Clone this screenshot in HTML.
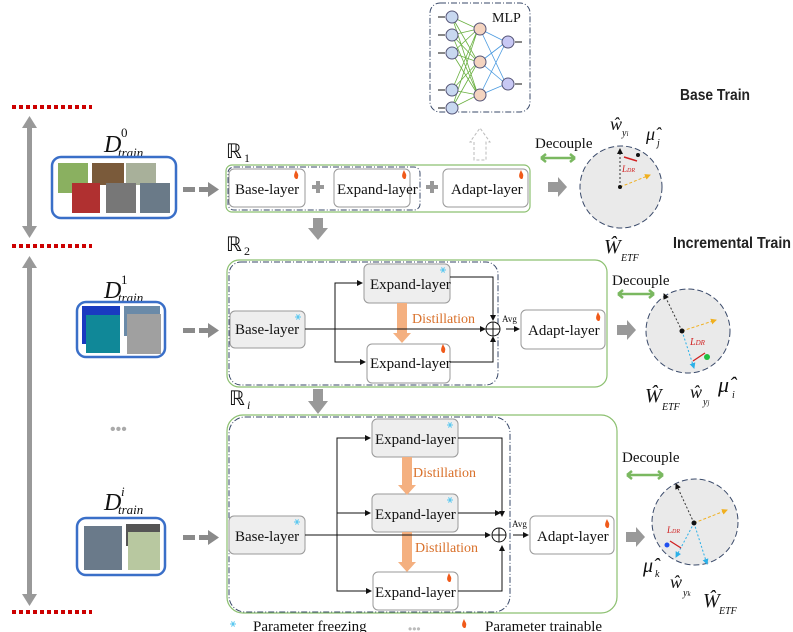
<!DOCTYPE html>
<html><head><meta charset="utf-8"><style>
body{margin:0;background:#fff}
svg{display:block}
.t{font-family:"Liberation Serif",serif;fill:#111}
.s{font-family:"Liberation Sans",sans-serif;font-weight:bold;fill:#222}
.or{fill:#d9702a;font-family:"Liberation Serif",serif}
</style></head><body>
<svg width="793" height="632" viewBox="0 0 793 632" xmlns="http://www.w3.org/2000/svg">
<defs>
<marker id="ah" markerWidth="6" markerHeight="6" refX="5" refY="3" orient="auto"><path d="M0,0 L6,3 L0,6z" fill="#111"/></marker>
<marker id="ay" markerWidth="6" markerHeight="6" refX="5" refY="3" orient="auto"><path d="M0,0 L6,3 L0,6z" fill="#f0b020"/></marker>
<marker id="ab" markerWidth="6" markerHeight="6" refX="5" refY="3" orient="auto"><path d="M0,0 L6,3 L0,6z" fill="#2ab0e8"/></marker>
<g id="fire"><path d="M0,6 C-3,4 -2,1 0,-3 C1,0 3,1 2,4 C2,6 1,6 0,6z" fill="#f05a1a"/></g>
<g id="snow" stroke="#5ac8f0" stroke-width="1"><line x1="-3" y1="0" x2="3" y2="0"/><line x1="-1.5" y1="-2.6" x2="1.5" y2="2.6"/><line x1="-1.5" y1="2.6" x2="1.5" y2="-2.6"/></g>
</defs>
<g stroke="#c00" stroke-width="4" stroke-dasharray="4,3">
<line x1="12" y1="107" x2="92" y2="107"/><line x1="12" y1="246" x2="92" y2="246"/><line x1="12" y1="612" x2="92" y2="612"/></g>
<g fill="#999"><rect x="27" y="127" width="5" height="100"/><path d="M22,128 L29.5,116 L37,128z M22,226 L29.5,238 L37,226z"/>
<rect x="27" y="267" width="5" height="328"/><path d="M22,268 L29.5,256 L37,268z M22,594 L29.5,606 L37,594z"/></g>
<text class="t" x="104" y="152" font-size="24" font-style="italic">D</text><text class="t" x="121" y="137" font-size="13">0</text><text class="t" x="118" y="157" font-size="13" font-style="italic">train</text>
<text class="t" x="104" y="298" font-size="24" font-style="italic">D</text><text class="t" x="121" y="284" font-size="13">1</text><text class="t" x="118" y="302" font-size="13" font-style="italic">train</text>
<text class="t" x="104" y="510" font-size="24" font-style="italic">D</text><text class="t" x="121" y="496" font-size="13" font-style="italic">i</text><text class="t" x="118" y="514" font-size="13" font-style="italic">train</text>
<rect x="52" y="157" width="124" height="61" rx="9" fill="#fff" stroke="#3a6fc8" stroke-width="2.5"/>
<rect x="58" y="163" width="30" height="30" fill="#8ab060"/><rect x="92" y="163" width="32" height="22" fill="#7a5a3a"/><rect x="126" y="163" width="30" height="22" fill="#a8b09a"/>
<rect x="72" y="183" width="28" height="30" fill="#b03030"/><rect x="106" y="183" width="30" height="30" fill="#777"/><rect x="140" y="183" width="30" height="30" fill="#6a7a88"/>
<rect x="77" y="302" width="88" height="55" rx="9" fill="#fff" stroke="#3a6fc8" stroke-width="2.5"/>
<rect x="82" y="306" width="38" height="38" fill="#1a3ac0"/><rect x="86" y="315" width="34" height="38" fill="#108898"/><rect x="124" y="306" width="36" height="30" fill="#6a8aa8"/><rect x="127" y="314" width="34" height="40" fill="#a0a0a0"/>
<rect x="77" y="518" width="88" height="57" rx="9" fill="#fff" stroke="#3a6fc8" stroke-width="2.5"/>
<rect x="84" y="526" width="38" height="44" fill="#6a7a8a"/><rect x="126" y="524" width="34" height="22" fill="#555"/><rect x="128" y="532" width="32" height="38" fill="#b8c8a0"/>
<text x="110" y="434" font-size="16" fill="#aaa" font-family="Liberation Sans">•••</text>
<g fill="#8a8a8a"><rect x="183" y="187" width="12" height="5"/><rect x="199" y="187" width="10" height="5"/><path d="M208,182 L219,189.5 L208,197z"/>
<rect x="183" y="328" width="12" height="5"/><rect x="199" y="328" width="10" height="5"/><path d="M208,323 L219,330.5 L208,338z"/>
<rect x="183" y="535" width="12" height="5"/><rect x="199" y="535" width="10" height="5"/><path d="M208,530 L219,537.5 L208,545z"/></g>
<!-- R1 -->
<text class="t" x="226" y="158" font-size="20">ℝ</text><text class="t" x="244" y="162" font-size="12">1</text>
<rect x="226" y="165" width="304" height="47" rx="6" fill="#fff" stroke="#8cc070" stroke-width="1.2"/>
<rect x="228" y="167" width="192" height="43" rx="6" fill="none" stroke="#3a4a6a" stroke-dasharray="6,2,1,2"/>
<rect x="229" y="169" width="76" height="38" rx="5" fill="#fff" stroke="#999"/><text class="t" x="235" y="194" font-size="15">Base-layer</text>
<rect x="334" y="169" width="76" height="38" rx="5" fill="#fff" stroke="#999"/><text class="t" x="337" y="194" font-size="15">Expand-layer</text>
<rect x="443" y="169" width="85" height="38" rx="5" fill="#fff" stroke="#999"/><text class="t" x="451" y="194" font-size="15">Adapt-layer</text>
<use href="#fire" x="296" y="173"/><use href="#fire" x="404" y="173"/><use href="#fire" x="521" y="173"/>
<g fill="#999"><rect x="312" y="185" width="12" height="4"/><rect x="316" y="181" width="4" height="12"/><rect x="426" y="185" width="12" height="4"/><rect x="430" y="181" width="4" height="12"/></g>
<!-- MLP -->
<rect x="430" y="3" width="100" height="109" rx="10" fill="#fff" stroke="#3a4a6a" stroke-dasharray="6,2,1,2"/>
<text class="t" x="492" y="22" font-size="14">MLP</text>
<g stroke="#6ab040" stroke-width="0.8"><path d="M452,17 L478,29 M452,17 L478,62 M452,17 L478,95 M452,35 L478,29 M452,35 L478,62 M452,35 L478,95 M452,53 L478,29 M452,53 L478,62 M452,53 L478,95 M452,90 L478,29 M452,90 L478,62 M452,90 L478,95 M452,108 L478,29 M452,108 L478,62 M452,108 L478,95"/></g>
<g stroke="#4a9ae0" stroke-width="0.8"><path d="M480,29 L506,42 M480,29 L506,84 M480,62 L506,42 M480,62 L506,84 M480,95 L506,42 M480,95 L506,84"/></g>
<g fill="#c8d8f0" stroke="#557"><circle cx="452" cy="17" r="6"/><circle cx="452" cy="35" r="6"/><circle cx="452" cy="53" r="6"/><circle cx="452" cy="90" r="6"/><circle cx="452" cy="108" r="6"/></g>
<g fill="#f4d4c0" stroke="#557"><circle cx="480" cy="29" r="6"/><circle cx="480" cy="62" r="6"/><circle cx="480" cy="95" r="6"/></g>
<g fill="#c8c8f4" stroke="#557"><circle cx="508" cy="42" r="6"/><circle cx="508" cy="84" r="6"/></g>
<g stroke="#111" stroke-width="1"><path d="M438,17h7M438,35h7M438,53h7M438,90h7M438,108h7M515,42h7M515,84h7"/></g>
<path d="M474,160 V142 H470 L480,128 L490,142 H486 V160z" fill="#fff" stroke="#bbb" stroke-dasharray="3,2"/>
<!-- Decouple 1 -->
<text class="t" x="535" y="148" font-size="15">Decouple</text>
<path d="M541,158 h34 M541,158 l5,-4 M541,158 l5,4 M575,158 l-5,-4 M575,158 l-5,4" stroke="#7ab860" stroke-width="2.5" fill="none"/>
<path d="M548,182 h10 v-5 l9,10 l-9,10 v-5 h-10z" fill="#999"/>
<circle cx="621" cy="187" r="41" fill="#eaeaea" stroke="#3a4a6a" stroke-dasharray="6,3"/>
<line x1="620" y1="187" x2="620" y2="149" stroke="#333" stroke-dasharray="2,2" marker-end="url(#ah)"/>
<line x1="620" y1="187" x2="650" y2="175" stroke="#f0b020" stroke-dasharray="3,2" marker-end="url(#ay)"/>
<line x1="624" y1="157" x2="637" y2="161" stroke="#d02020" stroke-width="1.5"/><circle cx="638" cy="155" r="2" fill="#111"/><circle cx="620" cy="187" r="2" fill="#111"/>
<text x="622" y="172" font-size="9" fill="#d02020" font-style="italic" font-family="Liberation Serif">L<tspan font-size="6">DR</tspan></text>
<text class="t" x="610" y="130" font-size="18" font-style="italic">ŵ</text><text class="t" x="622" y="136" font-size="10" font-style="italic">y<tspan font-size="7">i</tspan></text>
<text class="t" x="646" y="140" font-size="18" font-style="italic">μ̂</text><text class="t" x="657" y="146" font-size="10" font-style="italic">j</text>
<text class="t" x="604" y="253" font-size="20" font-style="italic">Ŵ</text><text class="t" x="621" y="261" font-size="10" font-style="italic">ETF</text>
<text class="s" x="680" y="100" font-size="16" textLength="70" lengthAdjust="spacingAndGlyphs">Base Train</text>
<text class="s" x="673" y="248" font-size="16" textLength="118" lengthAdjust="spacingAndGlyphs">Incremental Train</text>
<path d="M313,218 h10 v10 h5 l-10,12 l-10,-12 h5z" fill="#999"/>
<path d="M313,389 h10 v12 h5 l-10,13 l-10,-13 h5z" fill="#999"/>
<!-- R2 -->
<text class="t" x="226" y="251" font-size="20">ℝ</text><text class="t" x="244" y="255" font-size="12">2</text>
<rect x="227" y="260" width="380" height="127" rx="12" fill="#fff" stroke="#8cc070" stroke-width="1.2"/>
<rect x="229" y="262" width="269" height="123" rx="12" fill="none" stroke="#3a4a6a" stroke-dasharray="6,2,1,2"/>
<rect x="230" y="311" width="75" height="37" rx="5" fill="#eee" stroke="#999"/><text class="t" x="235" y="334" font-size="15">Base-layer</text><use href="#snow" x="298" y="317"/>
<rect x="364" y="264" width="86" height="39" rx="5" fill="#eee" stroke="#999"/><text class="t" x="370" y="289" font-size="15">Expand-layer</text><use href="#snow" x="443" y="270"/>
<rect x="367" y="344" width="83" height="39" rx="5" fill="#fff" stroke="#999"/><text class="t" x="370" y="368" font-size="15">Expand-layer</text><use href="#fire" x="443" y="347"/>
<path d="M397,303 h10 v30 h4 l-9,10 l-9,-10 h4z" fill="#f4b080"/><text class="or" x="412" y="323" font-size="14">Distillation</text>
<g stroke="#111" fill="none" stroke-width="1"><path d="M305,329 H485" marker-end="url(#ah)"/><path d="M335,329 V283 H362" marker-end="url(#ah)"/><path d="M335,329 V362 H365" marker-end="url(#ah)"/><path d="M450,277 H493 V320" marker-end="url(#ah)"/><path d="M450,362 H493 V337" marker-end="url(#ah)"/><path d="M506,329 H519" marker-end="url(#ah)"/></g>
<circle cx="493" cy="329" r="7" fill="#fff" stroke="#111"/><path d="M486,329h14M493,322v14" stroke="#111"/>
<text class="t" x="502" y="322" font-size="9">Avg</text>
<rect x="521" y="310" width="84" height="39" rx="5" fill="#fff" stroke="#999"/><text class="t" x="528" y="335" font-size="15">Adapt-layer</text><use href="#fire" x="598" y="315"/>
<text class="t" x="612" y="285" font-size="15">Decouple</text>
<path d="M618,294 h36 M618,294 l5,-4 M618,294 l5,4 M654,294 l-5,-4 M654,294 l-5,4" stroke="#7ab860" stroke-width="2.5" fill="none"/>
<path d="M617,325 h10 v-5 l9,10 l-9,10 v-5 h-10z" fill="#999"/>
<circle cx="688" cy="331" r="42" fill="#eaeaea" stroke="#3a4a6a" stroke-dasharray="6,3"/>
<line x1="682" y1="331" x2="664" y2="294" stroke="#333" stroke-dasharray="2,2" marker-end="url(#ah)"/>
<line x1="682" y1="331" x2="716" y2="320" stroke="#f0b020" stroke-dasharray="3,2" marker-end="url(#ay)"/>
<line x1="682" y1="331" x2="694" y2="368" stroke="#2ab0e8" stroke-dasharray="2,2" marker-end="url(#ab)"/>
<circle cx="682" cy="331" r="2.5" fill="#111"/><circle cx="707" cy="357" r="3" fill="#20c040"/><line x1="693" y1="361" x2="705" y2="353" stroke="#d02020" stroke-width="1.3"/>
<text x="690" y="345" font-size="10" fill="#d02020" font-style="italic" font-family="Liberation Serif">L<tspan font-size="7">DR</tspan></text>
<text class="t" x="645" y="402" font-size="20" font-style="italic">Ŵ</text><text class="t" x="662" y="410" font-size="10" font-style="italic">ETF</text>
<text class="t" x="690" y="398" font-size="18" font-style="italic">ŵ</text><text class="t" x="703" y="405" font-size="10" font-style="italic">y<tspan font-size="7">j</tspan></text>
<text class="t" x="718" y="392" font-size="22" font-style="italic">μ̂</text><text class="t" x="732" y="398" font-size="10" font-style="italic">i</text>
<!-- Ri -->
<text class="t" x="229" y="405" font-size="20">ℝ</text><text class="t" x="247" y="409" font-size="12" font-style="italic">i</text>
<rect x="227" y="415" width="390" height="198" rx="16" fill="#fff" stroke="#8cc070" stroke-width="1.2"/>
<rect x="229" y="417" width="281" height="195" rx="16" fill="none" stroke="#3a4a6a" stroke-dasharray="6,2,1,2"/>
<rect x="229" y="516" width="76" height="38" rx="5" fill="#eee" stroke="#999"/><text class="t" x="235" y="541" font-size="15">Base-layer</text><use href="#snow" x="297" y="522"/>
<rect x="372" y="419" width="86" height="38" rx="5" fill="#eee" stroke="#999"/><text class="t" x="375" y="444" font-size="15">Expand-layer</text><use href="#snow" x="450" y="425"/>
<rect x="372" y="494" width="86" height="38" rx="5" fill="#eee" stroke="#999"/><text class="t" x="375" y="519" font-size="15">Expand-layer</text><use href="#snow" x="450" y="500"/>
<rect x="373" y="572" width="85" height="38" rx="5" fill="#fff" stroke="#999"/><text class="t" x="375" y="597" font-size="15">Expand-layer</text><use href="#fire" x="449" y="576"/>
<path d="M402,457 h10 v28 h4 l-9,10 l-9,-10 h4z" fill="#f4b080"/><text class="or" x="413" y="477" font-size="14">Distillation</text>
<path d="M402,532 h10 v30 h4 l-9,10 l-9,-10 h4z" fill="#f4b080"/><text class="or" x="415" y="552" font-size="14">Distillation</text>
<g stroke="#111" fill="none" stroke-width="1"><path d="M305,535 H490" marker-end="url(#ah)"/><path d="M337,535 V438 H370" marker-end="url(#ah)"/><path d="M337,513 H370" marker-end="url(#ah)"/><path d="M337,535 V591 H371" marker-end="url(#ah)"/><path d="M458,438 H502 V516" marker-end="url(#ah)"/><path d="M458,513 H500" marker-end="url(#ah)"/><path d="M458,591 H502 V546" marker-end="url(#ah)"/><path d="M513,535 H528" marker-end="url(#ah)"/></g>
<circle cx="499" cy="535" r="7" fill="#fff" stroke="#111"/><path d="M492,535h14M499,528v14" stroke="#111"/>
<text class="t" x="512" y="527" font-size="9">Avg</text>
<rect x="530" y="516" width="84" height="38" rx="5" fill="#fff" stroke="#999"/><text class="t" x="537" y="541" font-size="15">Adapt-layer</text><use href="#fire" x="607" y="522"/>
<text class="t" x="622" y="462" font-size="15">Decouple</text>
<path d="M627,475 h36 M627,475 l5,-4 M627,475 l5,4 M663,475 l-5,-4 M663,475 l-5,4" stroke="#7ab860" stroke-width="2.5" fill="none"/>
<path d="M626,532 h10 v-5 l9,10 l-9,10 v-5 h-10z" fill="#999"/>
<circle cx="695" cy="522" r="43" fill="#eaeaea" stroke="#3a4a6a" stroke-dasharray="6,3"/>
<line x1="694" y1="523" x2="676" y2="484" stroke="#333" stroke-dasharray="2,2" marker-end="url(#ah)"/>
<line x1="694" y1="523" x2="727" y2="510" stroke="#f0b020" stroke-dasharray="3,2" marker-end="url(#ay)"/>
<line x1="694" y1="523" x2="676" y2="557" stroke="#2ab0e8" stroke-dasharray="2,2" marker-end="url(#ab)"/>
<line x1="694" y1="523" x2="707" y2="564" stroke="#2ab0e8" stroke-dasharray="2,2" marker-end="url(#ab)"/>
<circle cx="694" cy="523" r="2.5" fill="#111"/><circle cx="667" cy="545" r="2.5" fill="#2050f0"/><line x1="670" y1="541" x2="681" y2="548" stroke="#d02020" stroke-width="1.3"/>
<text x="667" y="533" font-size="9" fill="#d02020" font-style="italic" font-family="Liberation Serif">L<tspan font-size="6">DR</tspan></text>
<text class="t" x="643" y="572" font-size="20" font-style="italic">μ̂</text><text class="t" x="655" y="577" font-size="10" font-style="italic">k</text>
<text class="t" x="670" y="588" font-size="18" font-style="italic">ŵ</text><text class="t" x="683" y="596" font-size="10" font-style="italic">y<tspan font-size="7">k</tspan></text>
<text class="t" x="703" y="607" font-size="20" font-style="italic">Ŵ</text><text class="t" x="719" y="614" font-size="10" font-style="italic">ETF</text>
<!-- legend -->
<use href="#snow" x="233" y="624"/>
<text class="t" x="253" y="631" font-size="15">Parameter freezing</text>
<text x="408" y="633" font-size="12" fill="#bbb" font-family="Liberation Sans">•••</text>
<use href="#fire" x="464" y="622"/>
<text class="t" x="485" y="631" font-size="15">Parameter trainable</text>
</svg>
</body></html>
